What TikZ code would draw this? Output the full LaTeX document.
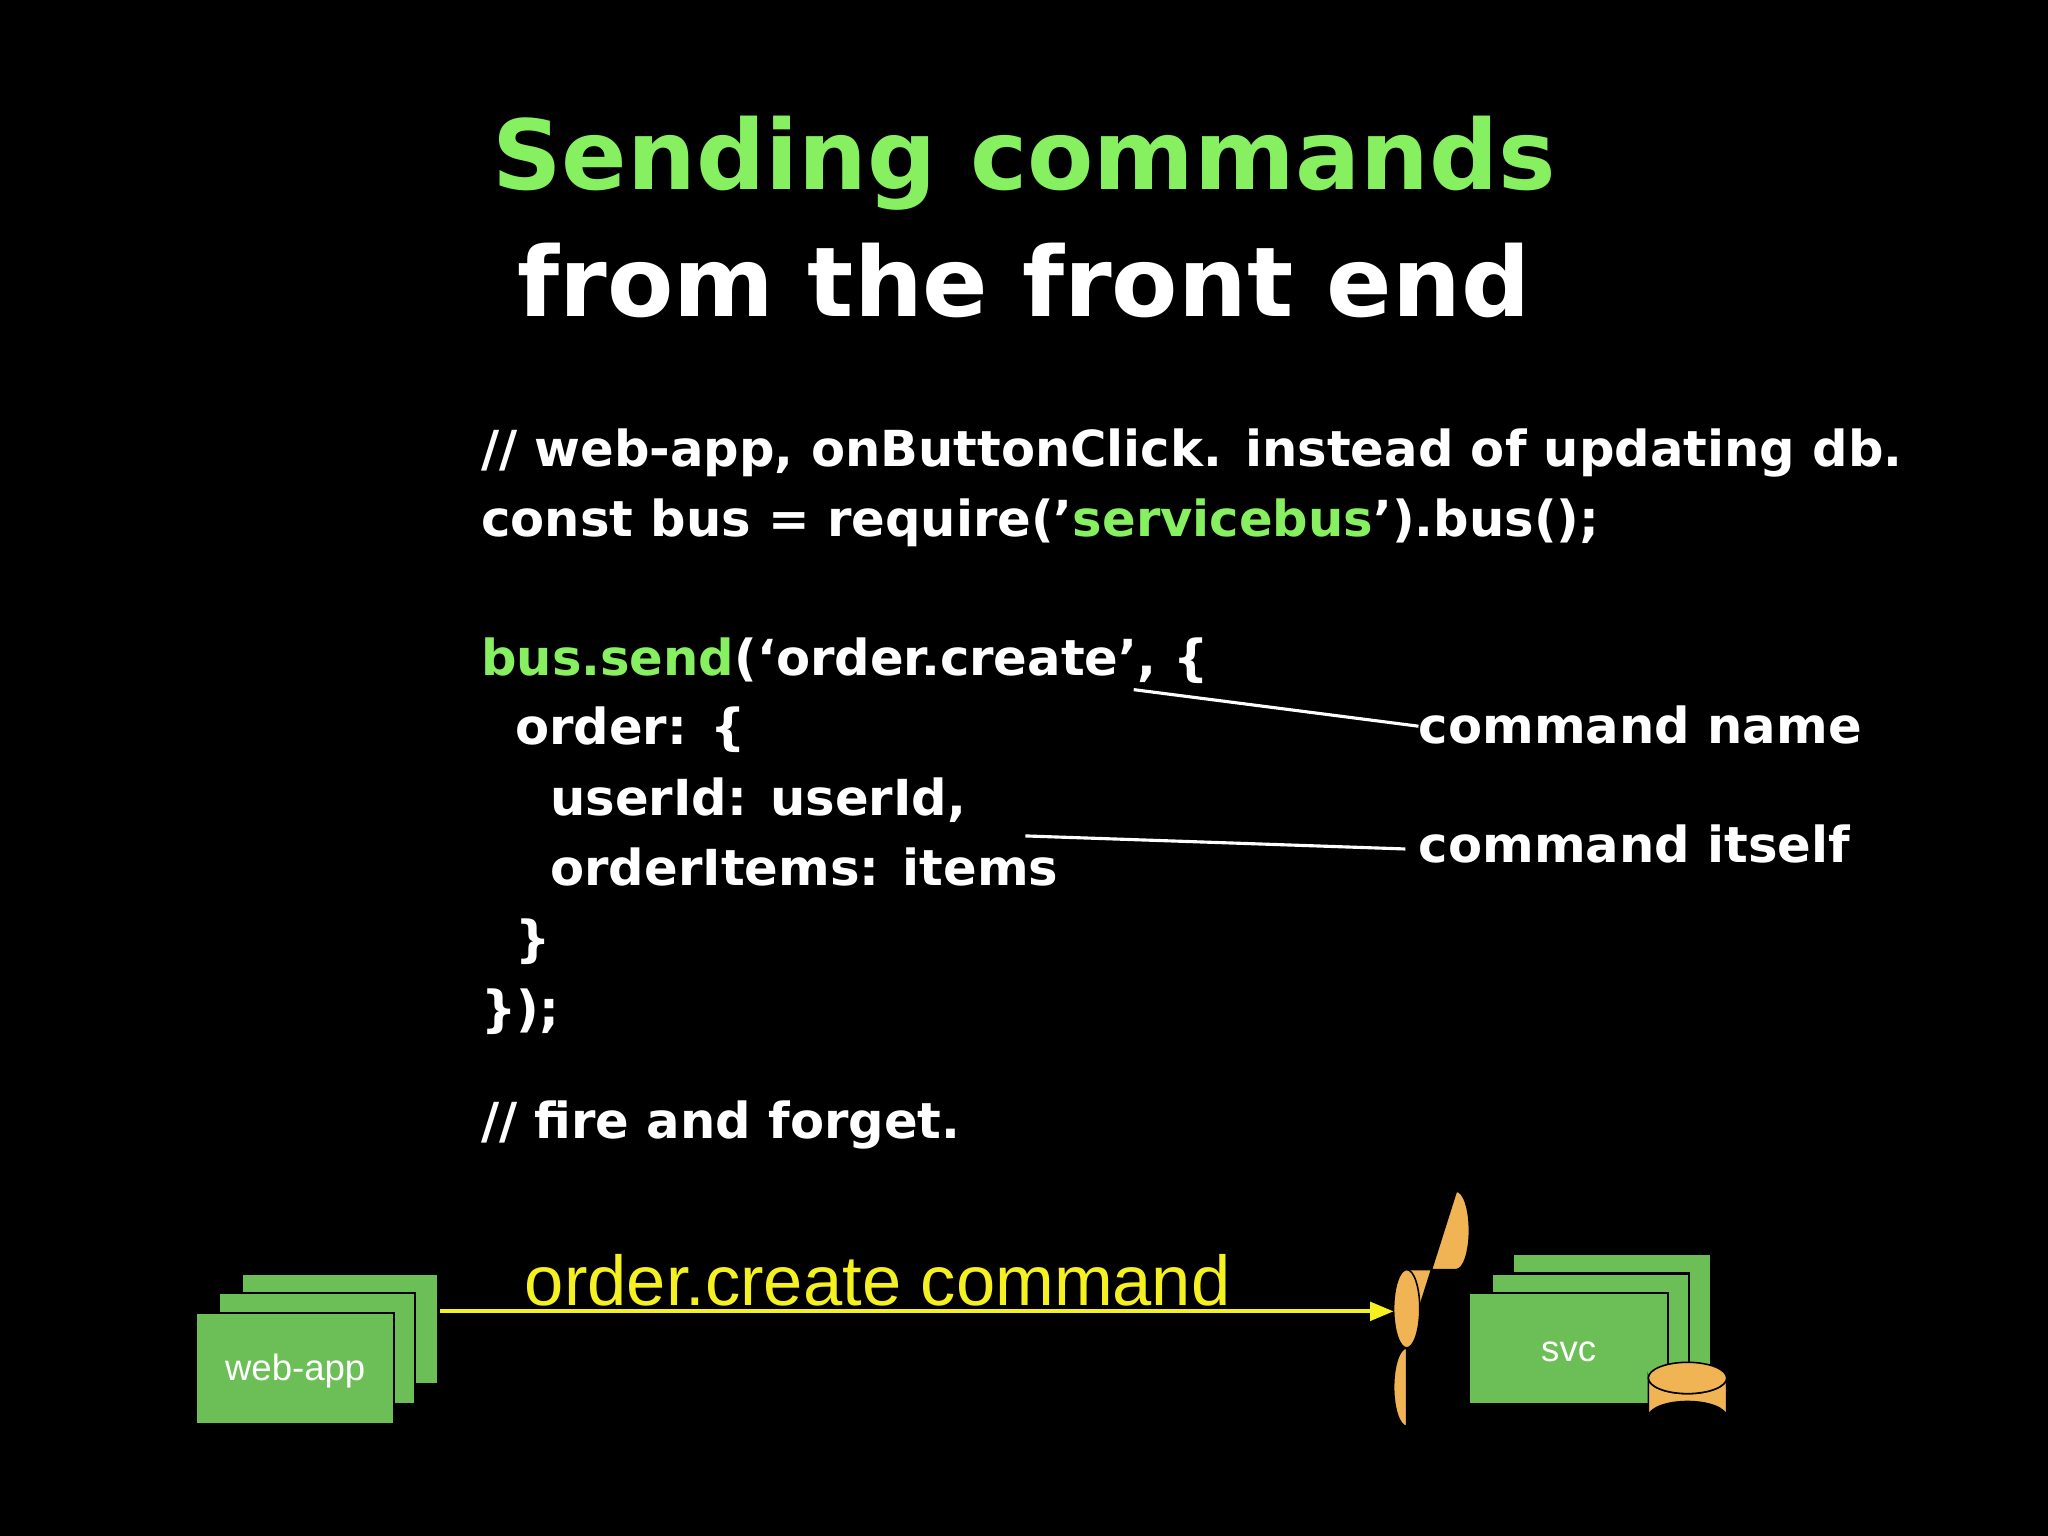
\documentclass[tikz,border=0pt]{standalone}
\usepackage{fontspec}
\setmainfont{DejaVu Sans}
\newfontfamily\hel{Liberation Sans}
\usetikzlibrary{shapes.geometric,arrows.meta}
\definecolor{lg}{HTML}{86F060}
\definecolor{bx}{HTML}{6CBF56}
\definecolor{org}{HTML}{F0B455}
\definecolor{yl}{HTML}{F5F020}
\tikzset{
 code/.style={anchor=base west,text=white,font=\bfseries\fontsize{19}{19}\selectfont,inner sep=0},
 box/.style={fill=bx,draw=black,line width=0.8pt},
 cyl/.style={fill=org,draw=black,line width=0.6pt},
 lab/.style={anchor=base west,text=white,font=\bfseries\fontsize{19}{19}\selectfont,inner sep=0}
}
\begin{document}
\begin{tikzpicture}[x=0.5pt,y=-0.5pt]
\fill[black] (0,0) rectangle (1568,1176);
\useasboundingbox (0,0) rectangle (1568,1176);
\node[anchor=base,inner sep=0,text=lg,font=\bfseries\fontsize{37}{37}\selectfont] (t1) at (784,145) {Sending commands};
\node[anchor=base,inner sep=0,text=white,font=\bfseries\fontsize{37}{37}\selectfont] (t2) at (784,242) {from the front end};
\node[code] (c1) at (368,357) {// web-app, onButtonClick. instead of updating db.};
\node[code] (c2) at (368,411) {const bus = require('\textcolor{lg}{servicebus}').bus();};
\node[code] (c3) at (368,517) {\textcolor{lg}{bus.send}(‘order.create', \{};
\node[code] (c4) at (394,570) {order: \{};
\node[code] (c5) at (421,624) {userId: userId,};
\node[code] (c6) at (421,678) {orderItems: items};
\node[code] (c7) at (394,732) {\}};
\node[code] (c8) at (368,786) {\});};
\node[code] (c9) at (368,872) {// fire and forget.};
\node[lab] (l1) at (1086,569) {command name};
\node[lab] (l2) at (1086,660) {command itself};
\coordinate (p1) at (868,528);
\coordinate (p2) at (785,640);
\draw[white,line width=1.2pt] (p1) -- (l1.base west |- 0,556);
\draw[white,line width=1.2pt] (p2) -- (1076,650);
% web-app
\draw[box] (185,975) rectangle (335,1060);
\draw[box] (168,990) rectangle (318,1075);
\draw[box] (150,1005) rectangle (302,1090);
\node[text=white,font=\hel\fontsize{14}{14}\selectfont] (wa) at (226,1050) {web-app};
% svc
\draw[box] (1158,960) rectangle (1310,1045);
\draw[box] (1142,975) rectangle (1293,1060);
\draw[box] (1125,990) rectangle (1277,1075);
\node[text=white,font=\hel\fontsize{14}{14}\selectfont] (svc) at (1201,1035) {svc};
% queue cylinder horizontal
\draw[cyl] (1077,972) -- (1115,972) arc[start angle=90,end angle=-90,x radius=10,y radius=30] -- (1077,1032) arc[start angle=270,end angle=90,x radius=10,y radius=30] -- cycle;
\draw[cyl] (1077,1002) ellipse[x radius=10,y radius=30];
\coordinate (q) at (1067,1004);
% db cylinder
\draw[cyl] (1262,1055) -- (1262,1085) arc[start angle=180,end angle=360,x radius=30,y radius=12] -- (1322,1055) arc[start angle=0,end angle=180,x radius=30,y radius=12] -- cycle;
\draw[cyl] (1292,1055) ellipse[x radius=30,y radius=12];
% arrow
\coordinate (wr) at (337,1004);
\draw[yl,line width=1.6pt,-{Triangle[length=9pt,width=7pt]}] (wr) -- (q) node[midway,above=-2pt,text=yl,font=\hel\fontsize{27}{27}\selectfont,xshift=-15pt] {order.create command};
\end{tikzpicture}
\end{document}
